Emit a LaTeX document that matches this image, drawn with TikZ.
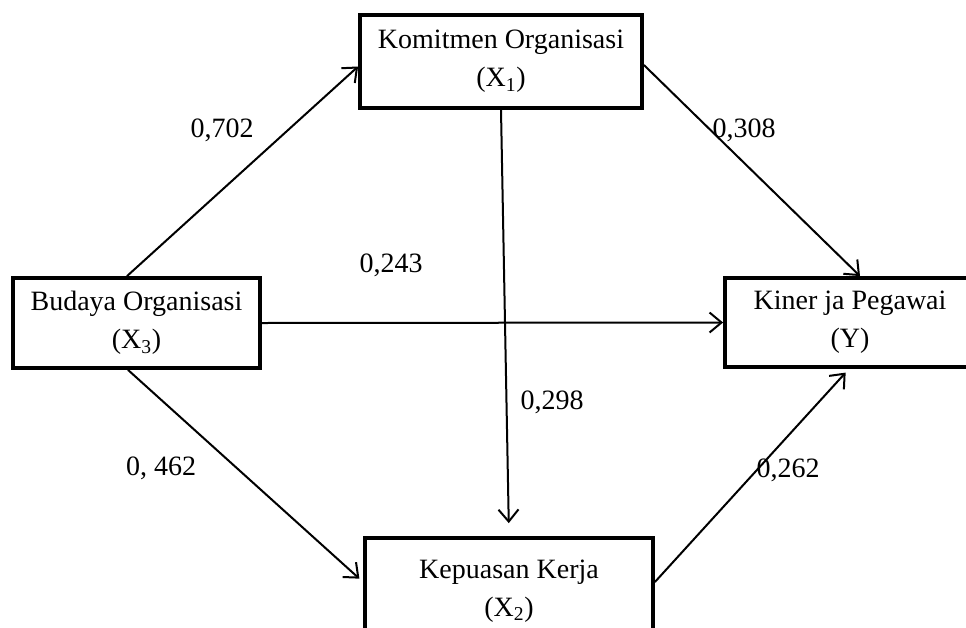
\documentclass[tikz,border=0pt]{standalone}
\usepackage{fontspec}
\setmainfont{Liberation Serif}
\usetikzlibrary{arrows.meta}

\tikzset{
  varbox/.style={draw, line width=3.8pt, align=center, inner sep=0pt,
    font=\fontsize{28}{38}\selectfont},
  coef/.style={font=\fontsize{28}{34}\selectfont, inner sep=0pt},
  path/.style={line width=2pt, -{Straight Barb[length=12pt,width=20pt,line width=2pt]}}
}

\begin{document}
\begin{tikzpicture}[x=1pt, y=-1pt]
  \useasboundingbox (0,0) rectangle (966,627);
  \clip (0,0) rectangle (966,627);

  % variables
  \node[varbox, minimum width=282pt, minimum height=93pt] (kom) at (501,61.5)
    {Komitmen Organisasi\\(X\textsubscript{1})};
  \node[varbox, minimum width=247pt, minimum height=90pt] (bud) at (136.5,323)
    {Budaya Organisasi\\(X\textsubscript{3})};
  \node[varbox, minimum width=250pt, minimum height=89pt] (kin) at (850,322.5)
    {Kiner ja Pegawai\\(Y)};
  \node[varbox, minimum width=288pt, minimum height=106pt] (kep) at (509,591)
    {Kepuasan Kerja\\(X\textsubscript{2})};

  % paths
  \draw[path] ([xshift=-9.5pt]bud.north) -- ([yshift=-5pt]kom.west);
  \draw[path] ([yshift=-3.5pt]kom.east) -- ([xshift=10pt]kin.north);
  \draw[path] (bud.east) -- (kin.west);
  \draw[path, shorten >=13pt] (kom.south) -- (kep.north);
  \draw[path, shorten >=5pt] ([xshift=-8.5pt]bud.south) -- ([yshift=9pt]kep.west);
  \draw[path, shorten >=5pt] ([yshift=9pt]kep.east) -- ([xshift=-1pt]kin.south);

  % path coefficients
  \node[coef] (c1) at (222,130) {0,702};
  \node[coef] (c2) at (744,130) {0,308};
  \node[coef] (c3) at (391,265) {0,243};
  \node[coef] (c4) at (552,402) {0,298};
  \node[coef] (c5) at (161,468) {0, 462};
  \node[coef] (c6) at (788,470) {0,262};
\end{tikzpicture}
\end{document}
